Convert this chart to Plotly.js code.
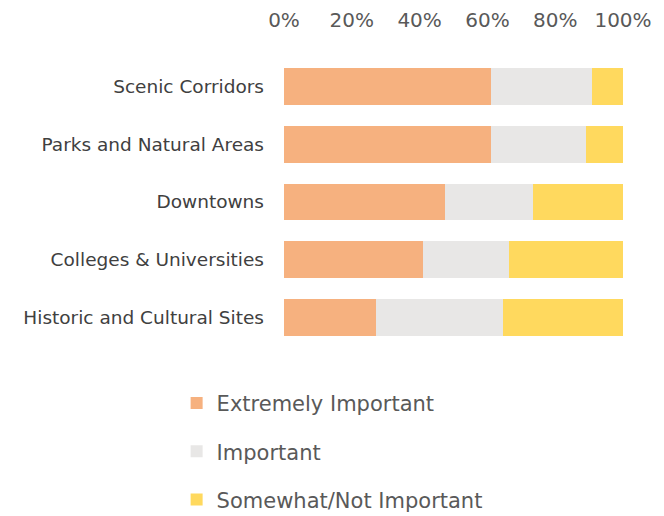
<!DOCTYPE html>
<html>
<head>
<meta charset="utf-8">
<script src="https://cdn.plot.ly/plotly-3.0.1.min.js"></script>
<style>html,body{margin:0;padding:0;background:#fff;}#chart{width:664px;height:516px;}</style>
</head>
<body>
<div id="chart"></div>
<script>
var categories = ["Scenic Corridors", "Parks and Natural Areas", "Downtowns", "Colleges & Universities", "Historic and Cultural Sites"];
var extremelyImportant = [61, 61, 47.5, 41, 27];
var important = [30, 28, 26, 25.5, 37.5];
var somewhatNotImportant = [9, 11, 26.5, 33.5, 35.5];
var seriesNames = ["Extremely Important", "Important", "Somewhat/Not Important"];
var tickValues = [0, 20, 40, 60, 80, 100];
var tickLabels = ["0%", "20%", "40%", "60%", "80%", "100%"];

var colors = ["#F6B17F", "#E8E7E6", "#FFD95E"];
var seriesValues = [extremelyImportant, important, somewhatNotImportant];

var traces = seriesValues.map(function (vals, i) {
  return {
    type: "bar",
    orientation: "h",
    name: seriesNames[i],
    legendgroup: "g" + i,
    y: categories,
    x: vals,
    marker: { color: colors[i], line: { width: 0 } },
    hoverinfo: "x+y+name"
  };
});

var layout = {
  width: 664,
  height: 516,
  margin: { l: 284, r: 41, t: 58, b: 170, autoexpand: false },
  paper_bgcolor: "#ffffff",
  plot_bgcolor: "#ffffff",
  barmode: "stack",
  bargap: 0.36,
  font: { family: "DejaVu Sans, Arial, sans-serif", color: "#595959" },
  xaxis: {
    side: "top",
    range: [0, 100],
    tickmode: "array",
    tickvals: tickValues,
    ticktext: tickLabels,
    tickangle: 0,
    automargin: false,
    showgrid: false,
    zeroline: false,
    showline: false,
    ticks: "",
    ticklabelstandoff: 26,
    tickfont: { size: 20, color: "#595959", family: "DejaVu Sans, Arial, sans-serif" },
    fixedrange: true
  },
  yaxis: {
    autorange: "reversed",
    automargin: false,
    showgrid: false,
    zeroline: false,
    showline: false,
    ticks: "",
    ticklabelstandoff: 19,
    tickfont: { size: 18.5, color: "#404040", family: "DejaVu Sans, Arial, sans-serif" },
    fixedrange: true
  },
  showlegend: true,
  legend: {
    orientation: "v",
    xref: "container",
    yref: "container",
    x: 0.266,
    xanchor: "left",
    y: 0.258,
    yanchor: "top",
    traceorder: "grouped",
    tracegroupgap: 18,
    itemwidth: 30,
    font: { size: 21, color: "#595959", family: "DejaVu Sans, Arial, sans-serif" },
    bgcolor: "rgba(0,0,0,0)"
  }
};

Plotly.newPlot("chart", traces, layout, { displayModeBar: false, staticPlot: true });
</script>
</body>
</html>
